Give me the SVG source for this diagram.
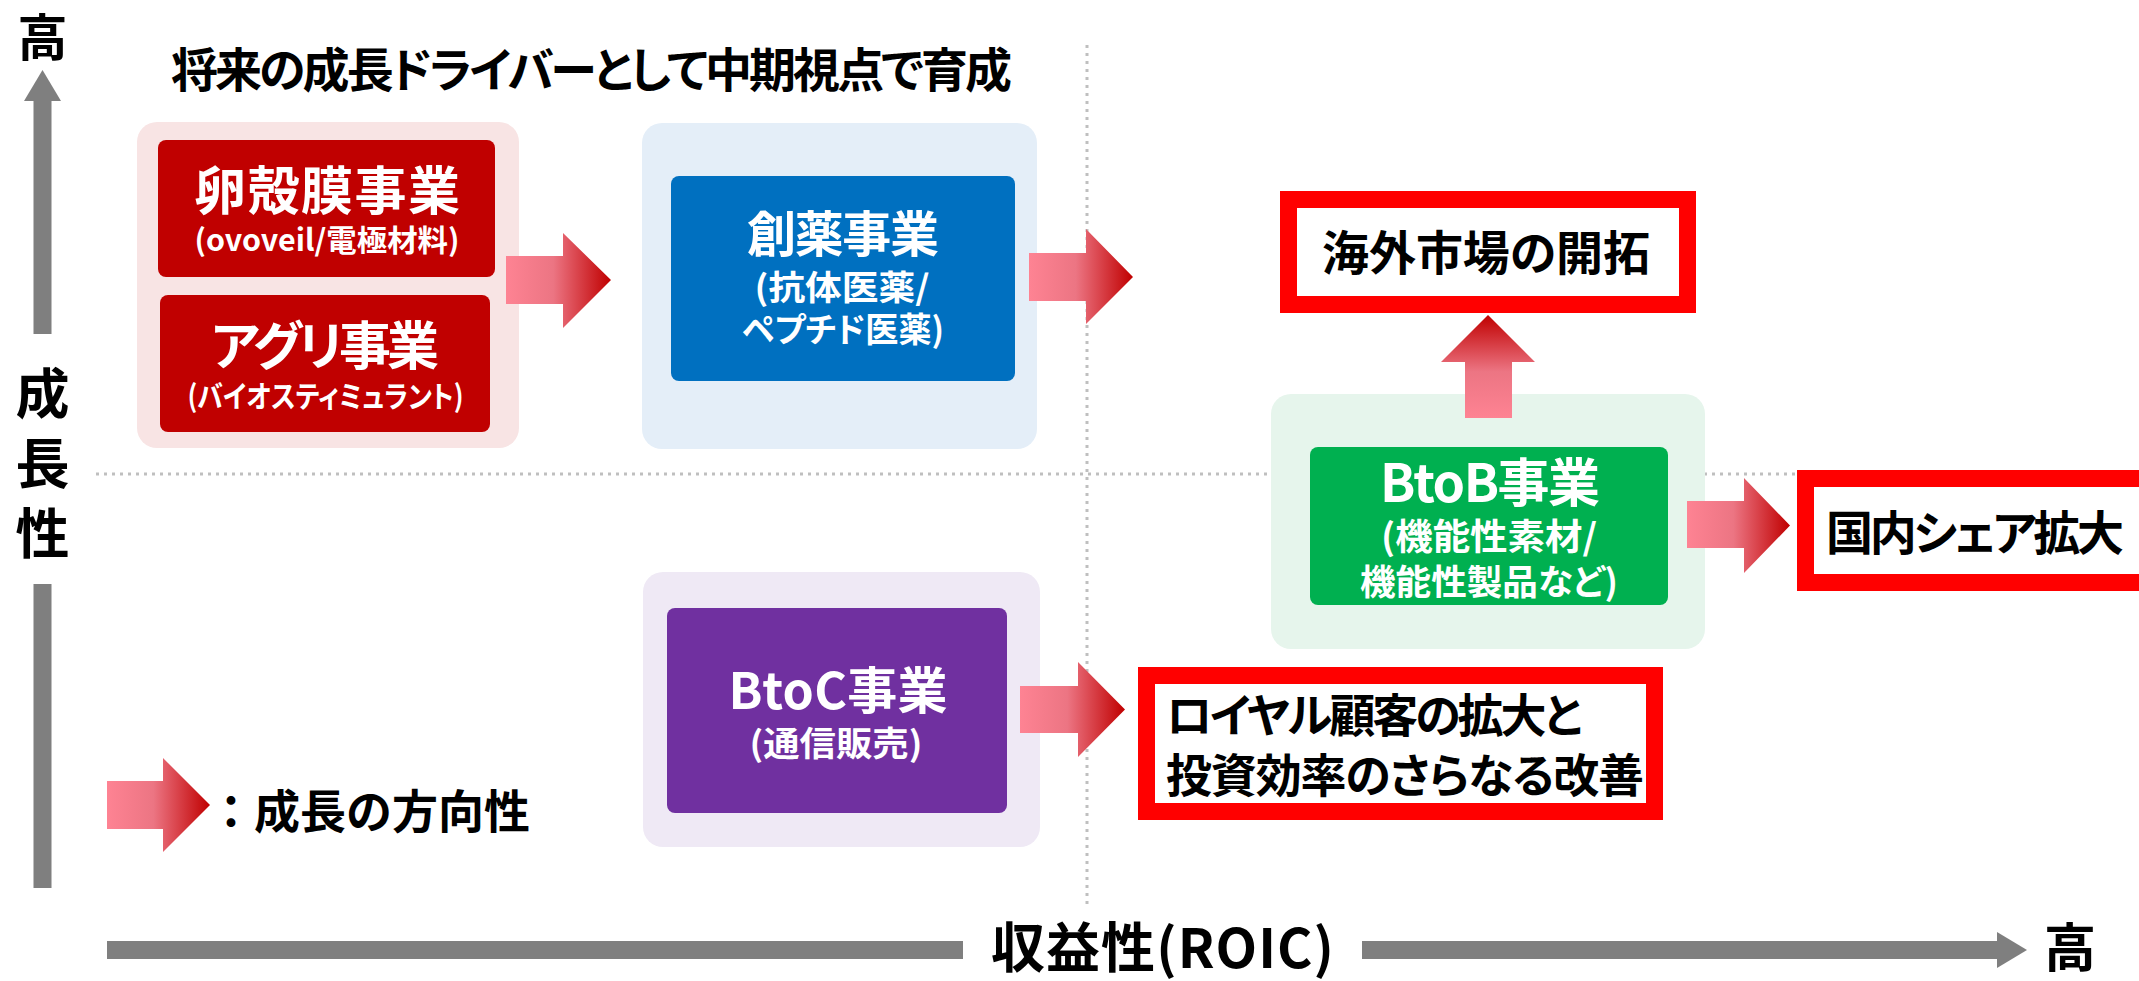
<svg xmlns="http://www.w3.org/2000/svg" width="2139" height="981" viewBox="0 0 2139 981">
<style>
text{font-family:"Noto Sans CJK JP","Noto Sans",sans-serif;font-weight:bold;font-feature-settings:"palt";}
.blk{fill:#000;}
.wht{fill:#fff;}
.mid{text-anchor:middle;}
.dot{stroke:#bfbfbf;stroke-width:3;stroke-dasharray:3 5;fill:none;}
.axis{fill:#7f7f7f;}
.frame{fill:#fff;stroke:#ff0000;stroke-width:17;}
.arr{fill:url(#gH);}
.arrV{fill:url(#gV);}
.leg{font-feature-settings:normal;}
</style>
<defs>
<linearGradient id="gH" x1="0" y1="0" x2="1" y2="0">
<stop offset="0" stop-color="#fe8393"/>
<stop offset="0.45" stop-color="#ec7583"/>
<stop offset="1" stop-color="#c00000"/>
</linearGradient>
<linearGradient id="gV" x1="0" y1="1" x2="0" y2="0">
<stop offset="0" stop-color="#fe8393"/>
<stop offset="0.45" stop-color="#ec7583"/>
<stop offset="1" stop-color="#c00000"/>
</linearGradient>
</defs>
<rect width="2139" height="981" fill="#fff"/>
<g id="gridlines">
<line class="dot" x1="1087" y1="45" x2="1087" y2="904"/>
<line class="dot" x1="96" y1="474" x2="1798" y2="474"/>
</g>
<g id="axes">
<rect class="axis" x="33.5" y="100" width="18" height="234"/>
<polygon class="axis" points="24,101 42.5,70 61,101"/>
<rect class="axis" x="33.5" y="584" width="18" height="304"/>
<rect class="axis" x="107" y="941" width="856" height="18"/>
<rect class="axis" x="1362" y="941" width="636" height="18"/>
<polygon class="axis" points="1997,932 2027,950 1997,968"/>
<text class="blk mid" x="42.5" y="56" font-size="50">高</text>
<text class="blk mid" x="42.5" y="414" font-size="54">成</text>
<text class="blk mid" x="42.5" y="484" font-size="54">長</text>
<text class="blk mid" x="42.5" y="554" font-size="54">性</text>
<text class="blk" x="991" y="968" font-size="54" textLength="343">収益性(ROIC)</text>
<text class="blk mid" x="2070" y="967" font-size="52">高</text>
</g>
<g id="title">
<text class="blk" x="171" y="87" font-size="47" textLength="841">将来の成長ドライバーとして中期視点で育成</text>
</g>
<g id="group-future">
<rect x="137" y="122" width="382" height="326" rx="20" fill="#f8e4e4"/>
</g>
<g id="node-ranko">
<rect x="158" y="140" width="337" height="137" rx="8" fill="#c00000"/>
<text class="wht mid" x="327" y="210" font-size="52" textLength="266">卵殻膜事業</text>
<text class="wht mid" x="327" y="251" font-size="30" textLength="265" lengthAdjust="spacingAndGlyphs">(ovoveil/電極材料)</text>
</g>
<g id="node-agri">
<rect x="160" y="295" width="330" height="137" rx="8" fill="#c00000"/>
<text class="wht mid" x="325" y="365" font-size="52" textLength="228">アグリ事業</text>
<text class="wht mid" x="325.5" y="407" font-size="30" textLength="276" lengthAdjust="spacingAndGlyphs">(バイオスティミュラント)</text>
</g>
<g id="node-souyaku">
<rect x="642" y="123" width="395" height="326" rx="20" fill="#e4eef8"/>
<rect x="671" y="176" width="344" height="205" rx="8" fill="#0070c0"/>
<text class="wht mid" x="843" y="252" font-size="49" textLength="192">創薬事業</text>
<text class="wht mid" x="842" y="300" font-size="34" textLength="175" lengthAdjust="spacingAndGlyphs">(抗体医薬/</text>
<text class="wht mid" x="843" y="342" font-size="34" textLength="202" lengthAdjust="spacingAndGlyphs">ペプチド医薬)</text>
</g>
<g id="node-btoc">
<rect x="643" y="572" width="397" height="275" rx="20" fill="#efe9f5"/>
<rect x="667" y="608" width="340" height="205" rx="8" fill="#7030a0"/>
<text class="wht mid" x="838" y="709" font-size="50" textLength="219">BtoC事業</text>
<text class="wht mid" x="836" y="756" font-size="34" textLength="173" lengthAdjust="spacingAndGlyphs">(通信販売)</text>
</g>
<g id="node-btob">
<rect x="1271" y="394" width="434" height="255" rx="20" fill="#e6f5ec"/>
<rect x="1310" y="447" width="358" height="158" rx="8" fill="#00b050"/>
<text class="wht mid" x="1490" y="502" font-size="52" textLength="220">BtoB事業</text>
<text class="wht mid" x="1489" y="550" font-size="36" textLength="216" lengthAdjust="spacingAndGlyphs">(機能性素材/</text>
<text class="wht mid" x="1489" y="595" font-size="35" textLength="258" lengthAdjust="spacingAndGlyphs">機能性製品など)</text>
</g>
<g id="node-overseas">
<rect class="frame" x="1288.5" y="199.5" width="399" height="105"/>
<text class="blk mid" x="1486" y="270" font-size="47" textLength="328">海外市場の開拓</text>
</g>
<g id="node-domestic">
<rect class="frame" x="1805.5" y="478.5" width="345" height="104"/>
<text class="blk mid" x="1975" y="550" font-size="47" textLength="298">国内シェア拡大</text>
</g>
<g id="node-loyal">
<rect class="frame" x="1146.5" y="675.5" width="508" height="136"/>
<text class="blk" x="1166" y="732" font-size="46" textLength="416">ロイヤル顧客の拡大と</text>
<text class="blk" x="1166" y="792" font-size="46" textLength="478">投資効率のさらなる改善</text>
</g>
<g id="connectors">
<path class="arr" d="M506,256 H563 V233 L611,280 L563,328 V304 H506 Z"/>
<path class="arr" d="M1029,253 H1086 V229 L1133,277 L1086,324 V301 H1029 Z"/>
<path class="arr" d="M1020,686 H1078 V662 L1125,709.5 L1078,757 V733 H1020 Z"/>
<path class="arr" d="M1687,501 H1744 V478 L1790,525.5 L1744,573 V548 H1687 Z"/>
<path class="arrV" d="M1465,418 V362 H1441 L1488,315 L1535,362 H1512 V418 Z"/>
</g>
<g id="legend">
<path class="arr" d="M107,781 H163 V758 L210,805 L163,852 V829 H107 Z"/>
<text class="blk leg" x="208" y="828" font-size="46">：成長の方向性</text>
</g>
</svg>
